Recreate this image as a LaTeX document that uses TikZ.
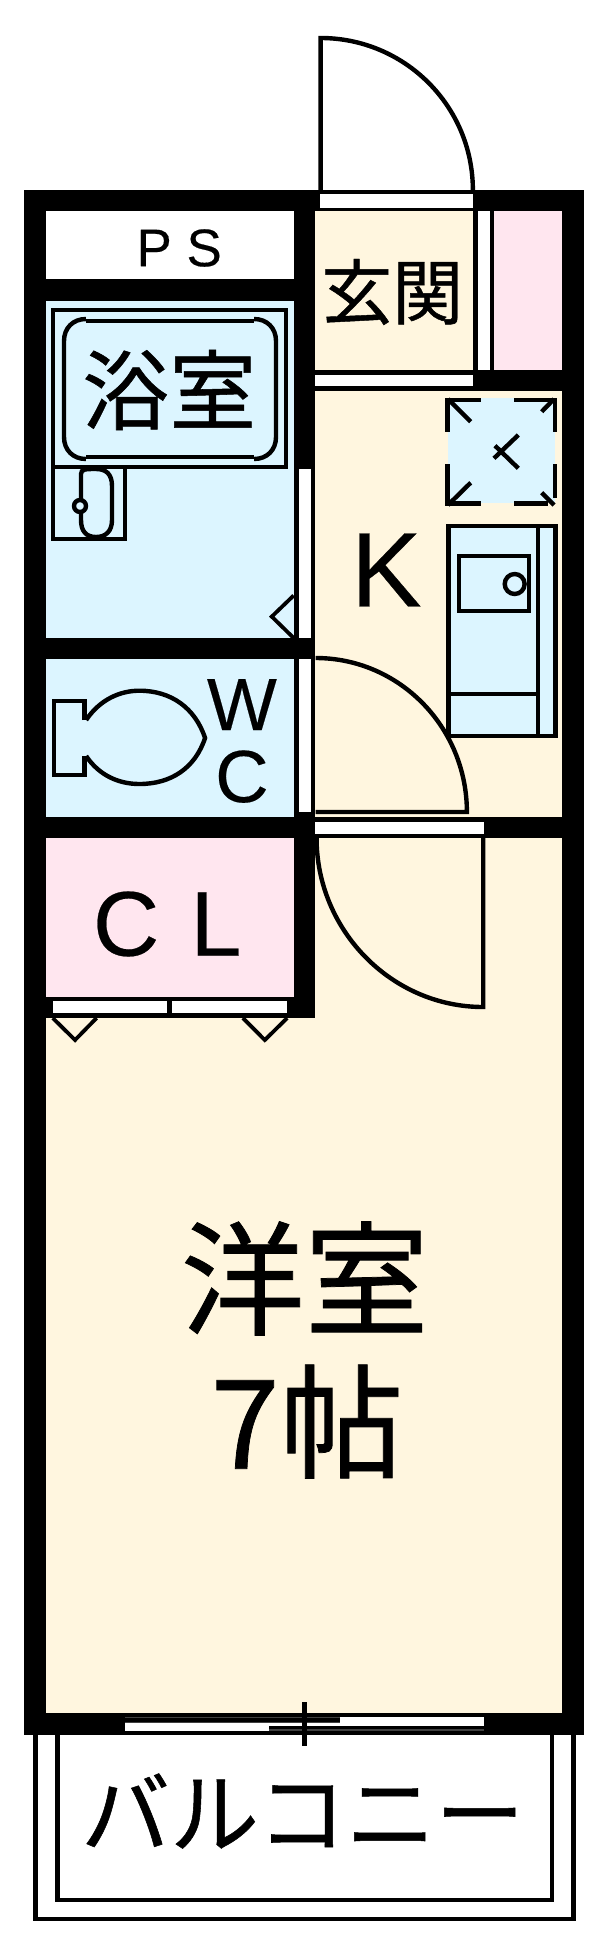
\documentclass[tikz,border=0pt]{standalone}
\usepackage{fontspec}
\setmainfont[FakeBold=0.25]{Liberation Sans}
\newfontfamily\jpfont[FakeBold=0.6]{Noto Sans CJK JP}
\definecolor{bluef}{HTML}{DCF5FF}
\definecolor{creamf}{HTML}{FFF6DF}
\definecolor{pinkf}{HTML}{FFE6EF}
\tikzset{
  line/.style={draw=black,line width=4.4pt,line join=miter},
  thin line/.style={draw=black,line width=3.8pt},
  label/.style={inner sep=0pt,outer sep=0pt,text=black,anchor=center},
}
\begin{document}
\begin{tikzpicture}[x=0.9955pt,y=-1pt]
\useasboundingbox (0,0) rectangle (602.71,1948);
\fill[white] (0,0) rectangle (602.71,1948);
% balcony
\draw[line] (35.8,1730) -- (35.8,1919) -- (576,1919) -- (576,1730);
\draw[line] (57.7,1730) -- (57.7,1900) -- (554.6,1900) -- (554.6,1730);
% entrance door
\draw[line] (322,190) -- (322,38) .. controls (406.5,38) and (475,106) .. (475,190);
% walls
\fill[black] (24.6,190) rectangle (586.6,1735);
% rooms
\fill[white] (46.2,211) rectangle (295,279);
\fill[bluef] (46.2,301) rectangle (295,638);
\fill[bluef] (46.2,659) rectangle (295,817);
\fill[pinkf] (46.2,838) rectangle (295,997);
\fill[creamf] (316,211) rectangle (475,369.5);
\fill[pinkf] (496.5,211) rectangle (565,369.5);
\fill[creamf] (316,390.5) rectangle (565,817);
\fill[creamf] (316,838) rectangle (565,1713);
\fill[creamf] (46.2,1018) rectangle (316,1713);
% openings
\fill[white] (321.5,194) rectangle (475,207.5);
\fill[white] (480,211) rectangle (492,369.5);
\fill[white] (316,374.5) rectangle (475,386);
\fill[white] (300,469) rectangle (312,638);
\fill[white] (300,659) rectangle (312,812);
\fill[white] (316,821.7) rectangle (486.5,834);
\fill[white] (53,1001) rectangle (168,1013);
\fill[white] (172.7,1001) rectangle (288,1013);
% balcony window
\fill[white] (126,1717) rectangle (486.5,1731);
\fill[black!75] (126,1717) rectangle (342,1723);
\fill[black] (126,1718) rectangle (342,1722);
\fill[black!75] (270,1725.5) rectangle (486.5,1731);
\fill[black] (270,1726) rectangle (486.5,1729);
\draw[black,line width=4.6pt] (305.8,1702) -- (305.8,1746);
% bath door swing
\draw[thin line] (295,595.5) -- (273,616.6) -- (295,638);
% closet swings
\draw[thin line] (53,1018) -- (75.4,1040) -- (97,1018);
\draw[thin line] (244,1018) -- (266,1040) -- (288.5,1018);
\begin{scope}[x=1pt]
% bathtub
\draw[line] (53,310) rectangle (286,467);
\draw[line] (86,321) -- (254,321);
\draw[line] (86,457) -- (254,457);
\draw[line] (86,319) .. controls (73,319) and (64,328) .. (64,341) -- (64,437) .. controls (64,450) and (73,459) .. (86,459);
\draw[line] (254,319) .. controls (267,319) and (276,328) .. (276,341) -- (276,437) .. controls (276,450) and (267,459) .. (254,459);
% wash basin
\draw[line] (53,467) -- (53,539) -- (125,539) -- (125,467);
\draw[line] (81,474) .. controls (81,469) and (86,469) .. (96,469) .. controls (106,469) and (112,474) .. (112,486) -- (112,520) .. controls (112,531) and (106,537) .. (96,537) .. controls (86,537) and (81,531) .. (81,520) -- cycle;
\draw[line,fill=bluef] (80,506) circle (6);
% vent
\fill[bluef] (447.7,398) rectangle (555,503);
\draw[line] (447.3,431.7) -- (447.3,400) -- (481,400);
\draw[line] (514,400) -- (555,400) -- (555,431.7);
\draw[line] (447.3,464) -- (447.3,503.3) -- (481,503.3);
\draw[line] (514,503.3) -- (548,503.3);
\draw[line] (555,464) -- (555,498);
\draw[line] (448,399) -- (470.7,421.7);
\draw[line] (448,505) -- (470.7,482.7);
\draw[line] (554,399) -- (541.7,411.7);
\draw[line] (554,505) -- (541.7,492.7);
\draw[line] (494,458.3) -- (518.3,435);
\draw[line] (495,445.7) -- (518.3,468.3);
\end{scope}
% kitchen
\draw[line,fill=bluef] (450.5,526) rectangle (558,735.7);
\draw[line] (540.5,526) -- (540.5,735.7);
\draw[line] (450.5,694) -- (540.5,694);
\draw[line] (461,556) rectangle (531.5,611);
\draw[line,fill=bluef] (517,584) circle (10);
% toilet
\draw[line] (85,720) -- (85,700.7) -- (54,700.7) -- (54,775) -- (85,775) -- (85,756);
\draw[line] (86.5,720) .. controls (100,700) and (120,690.7) .. (140,690.7) .. controls (172,690.7) and (196,708) .. (206,738) .. controls (196,768) and (172,784) .. (140,784) .. controls (120,784) and (100,776) .. (86.5,756);
% doors inside
\draw[line] (317,658) .. controls (401,658) and (469,727) .. (469,812) -- (317,812);
\draw[line] (318,838) .. controls (318,930) and (393,1007) .. (485.4,1007) -- (485.4,838);
% labels
\node[label,font=\fontsize{53}{53}\selectfont] (ps) at (180,248) {P S};
\node[label,font=\jpfont\fontsize{87}{87}\selectfont] (bath) at (170,390) {浴室};
\node[label,font=\jpfont\fontsize{71}{71}\selectfont] (entry) at (394,292) {玄関};
\node[label,font=\fontsize{106}{106}\selectfont] (k) at (388,570) {K};
\node[label,align=center,font=\fontsize{74}{72}\selectfont] (wc) at (243,741) {W\\C};
\node[label,font=\fontsize{92}{92}\selectfont] (cl) at (168,924) {C\hspace{0.06em} L};
\node[label,align=center,font=\jpfont\fontsize{124}{143}\selectfont] (room) at (306,1350) {洋室\\\hspace*{5pt}7帖};
\node[label,font=\jpfont\fontsize{89}{89}\selectfont] (balc) at (304,1811) {バルコニー};
\end{tikzpicture}
\end{document}
